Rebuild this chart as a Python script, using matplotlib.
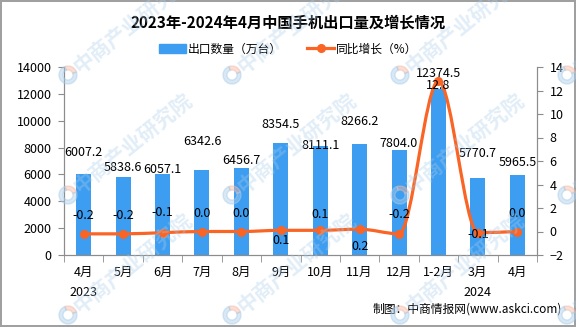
import numpy as np
import matplotlib.pyplot as plt
from matplotlib.path import Path
from matplotlib.patches import PathPatch, Patch, Wedge
from matplotlib.lines import Line2D
from matplotlib.transforms import IdentityTransform

plt.rcParams['font.family'] = ['Noto Sans CJK SC', 'DejaVu Sans']

# data
months = ["4月", "5月", "6月", "7月", "8月", "9月", "10月", "11月", "12月", "1-2月", "3月", "4月"]
export_vol = [6007.2, 5838.6, 6057.1, 6342.6, 6456.7, 8354.5, 8111.1, 8266.2, 7804.0, 12374.5, 5770.7, 5965.5]
yoy = [-0.2, -0.2, -0.1, 0.0, 0.0, 0.1, 0.1, 0.2, -0.2, 12.8, -0.1, 0.0]
years = ["2023", "2024"]
year_pos = [0, 10]

# label offsets in pixels (from the reference layout)
bar_lab_off = [22, 9, 4, 28, 8, 18, 1, 22, 7, 15, 24, 12]
line_lab_off = [18, 18, 20, 18, 18, -10, 16, -17, 19, -4, -2, 18]

bar_color = "#3d9df0"
line_color = "#fa6424"
grey = "#8c8c8c"

fig = plt.figure(figsize=(5.76, 3.27), dpi=100)
fig.patch.set_edgecolor("#a0a0a0")
fig.patch.set_linewidth(1.5)

ax = fig.add_axes([64 / 576, 1 - 255 / 327, (537 - 64) / 576, (255 - 67) / 327])
ax.set_facecolor("none")
x = np.arange(len(months))
ax.bar(x, export_vol, width=0.38, color=bar_color, zorder=2)
ax.set_xlim(-0.5, len(months) - 0.5)
ax.set_ylim(0, 14000)
ax.set_yticks(range(0, 14001, 2000))

ax2 = ax.twinx()
ax2.set_ylim(-2, 14)
ax2.set_yticks(range(-2, 15, 2))

for a in (ax, ax2):
    a.spines["top"].set_visible(False)
    for s in ("left", "right", "bottom"):
        a.spines[s].set_color(grey)
    a.tick_params(axis="y", colors=grey, labelcolor="black", labelsize=9, length=4, pad=5)

ax.set_xticks(x, months)
ax.tick_params(axis="x", length=0, labelsize=9, pad=8)
ax.set_xticks(np.arange(-0.5, len(months), 1), minor=True)
ax.tick_params(axis="x", which="minor", length=5, color=grey)

# smooth line through the yoy points (monotone bezier)
yv = np.array(yoy)
d = np.diff(yv)
m = np.zeros(len(yv))
m[0], m[-1] = d[0], d[-1]
for i in range(1, len(yv) - 1):
    if d[i - 1] * d[i] > 0:
        m[i] = 2 / (1 / d[i - 1] + 1 / d[i])
verts = [(x[0], yv[0])]
codes = [Path.MOVETO]
for i in range(len(yv) - 1):
    verts += [(x[i] + 1 / 3, yv[i] + m[i] / 3),
              (x[i + 1] - 1 / 3, yv[i + 1] - m[i + 1] / 3),
              (x[i + 1], yv[i + 1])]
    codes += [Path.CURVE4] * 3
ax2.add_patch(PathPatch(Path(verts, codes), fill=False, edgecolor=line_color,
                        lw=2.3, capstyle="round", zorder=3))
ax2.plot(x, yoy, "o", color=line_color, ms=5.5, zorder=4)

for i, v in enumerate(export_vol):
    ax.annotate(f"{v:.1f}", (x[i], v), xytext=(0, bar_lab_off[i]), textcoords="offset pixels",
                ha="center", va="center", fontsize=9, zorder=5)
for i, v in enumerate(yoy):
    ax2.annotate(f"{v:.1f}", (x[i], v), xytext=(0, line_lab_off[i]), textcoords="offset pixels",
                 ha="center", va="center", fontsize=9, zorder=5)

for p, yr in zip(year_pos, years):
    ax.text(p, -0.197, yr, transform=ax.get_xaxis_transform(), ha="center", va="center", fontsize=9)

fig.text(0.5, 1 - 23 / 327, "2023年-2024年4月中国手机出口量及增长情况",
         ha="center", va="center", fontsize=11, fontweight="bold")

handles = [Patch(color=bar_color), Line2D([], [], color=line_color, lw=2.3, marker="o", ms=5.5)]
fig.legend(handles, ["出口数量（万台）", "同比增长（%）"], loc="center", bbox_to_anchor=(0.5, 1 - 49 / 327),
           ncol=2, frameon=False, fontsize=8.5, handlelength=2.3, handleheight=0.7,
           handletextpad=0.1, columnspacing=2.2)

fig.text(562 / 576, 1 - 309 / 327, "制图：中商情报网(www.askci.com)", ha="right", va="center", fontsize=8.5)

# watermark
for cx in (68, 232, 400, 567):
    for cy in (75, 195, 315):
        py = 327 - cy
        fig.patches.append(Wedge((cx, py), 9, 20, 110, width=4, color="#f2b8a6", alpha=0.45,
                                 transform=IdentityTransform(), zorder=10))
        fig.patches.append(Wedge((cx, py), 9, 110, 380, width=4, color="#a9cce9", alpha=0.45,
                                 transform=IdentityTransform(), zorder=10))
        fig.text((cx + 8) / 576, (py + 6) / 327, "中商产业研究院", rotation=39, rotation_mode="anchor",
                 ha="left", va="center", fontsize=15, fontweight="bold", color="#a9cce9",
                 alpha=0.35, zorder=10)

fig.savefig("out.png", dpi=100, edgecolor=fig.get_edgecolor())
